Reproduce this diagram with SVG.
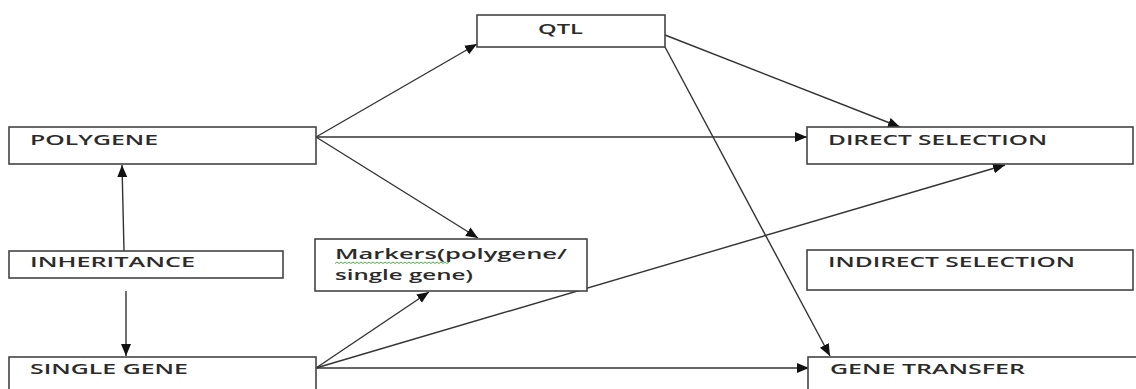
<svg xmlns="http://www.w3.org/2000/svg" width="1136" height="389" viewBox="0 0 1136 389">
  <style>
    .box { fill: #ffffff; stroke: #444444; stroke-width: 1.6; }
    .lbl { font-family: "Open Sans", "Liberation Sans", sans-serif; font-weight: 600; font-size: 14px; fill: #2b2b2b; }
    .mk { font-family: "Open Sans", "Liberation Sans", sans-serif; font-weight: 600; font-size: 15px; fill: #2b2b2b; }
    .edge { fill: none; stroke: #333333; stroke-width: 1.4; marker-end: url(#arrow); }
  </style>
  <defs>
    <marker id="arrow" markerUnits="userSpaceOnUse" markerWidth="14" markerHeight="12" refX="12" refY="5" orient="auto">
      <path d="M0,0 L12,5 L0,10 Z" fill="#111111"/>
    </marker>
  </defs>

  <rect width="1136" height="389" fill="#ffffff"/>

  <g id="connectors">
    <!-- inheritance branches -->
    <line class="edge" x1="124" y1="251" x2="122" y2="165"/>
    <line class="edge" x1="126" y1="291" x2="126" y2="356"/>
    <!-- from POLYGENE -->
    <line class="edge" x1="316" y1="137" x2="477" y2="44"/>
    <line class="edge" x1="316" y1="137" x2="807" y2="137"/>
    <line class="edge" x1="316" y1="137" x2="478" y2="238"/>
    <!-- from QTL -->
    <line class="edge" x1="665" y1="35" x2="900" y2="127"/>
    <line class="edge" x1="665" y1="47" x2="830" y2="356"/>
    <!-- from SINGLE GENE -->
    <line class="edge" x1="316" y1="368" x2="429" y2="292"/>
    <line class="edge" x1="316" y1="368" x2="1005" y2="165"/>
    <line class="edge" x1="316" y1="368" x2="809" y2="368"/>
  </g>

  <g id="qtl">
    <rect class="box" x="477" y="15" width="188" height="32"/>
    <text class="lbl" x="538" y="34" textLength="45" lengthAdjust="spacingAndGlyphs">QTL</text>
  </g>

  <g id="polygene">
    <rect class="box" x="9" y="127" width="307" height="37"/>
    <text class="lbl" x="30" y="145" textLength="128" lengthAdjust="spacingAndGlyphs">POLYGENE</text>
  </g>

  <g id="direct-selection">
    <rect class="box" x="807" y="127" width="326" height="37"/>
    <text class="lbl" x="828" y="145" textLength="219" lengthAdjust="spacingAndGlyphs">DIRECT SELECTION</text>
  </g>

  <g id="inheritance">
    <rect class="box" x="9" y="251" width="274" height="27"/>
    <text class="lbl" x="30" y="267" textLength="165" lengthAdjust="spacingAndGlyphs">INHERITANCE</text>
  </g>

  <g id="markers">
    <rect class="box" x="315" y="239" width="272" height="52"/>
    <text class="mk" x="335" y="259" textLength="232" lengthAdjust="spacingAndGlyphs">Markers(polygene/</text>
    <text class="mk" x="335" y="280" textLength="138" lengthAdjust="spacingAndGlyphs">single gene)</text>
    <!-- spell-check squiggle under the first word -->
    <path d="M335,263.5 l2,-1.5 l2,1.5 l2,-1.5 l2,1.5 l2,-1.5 l2,1.5 l2,-1.5 l2,1.5 l2,-1.5 l2,1.5 l2,-1.5 l2,1.5 l2,-1.5 l2,1.5 l2,-1.5 l2,1.5 l2,-1.5 l2,1.5 l2,-1.5 l2,1.5 l2,-1.5 l2,1.5 l2,-1.5 l2,1.5 l2,-1.5 l2,1.5 l2,-1.5 l2,1.5 l2,-1.5 l2,1.5 l2,-1.5 l2,1.5 l2,-1.5 l2,1.5 l2,-1.5 l2,1.5 l2,-1.5 l2,1.5 l2,-1.5 l2,1.5 l2,-1.5 l2,1.5 l2,-1.5 l2,1.5 l2,-1.5 l2,1.5 l2,-1.5 l2,1.5 l2,-1.5 l2,1.5 l2,-1.5 l2,1.5 l2,-1.5 l2,1.5 l2,-1.5 l2,1.5 l2,-1.5" fill="none" stroke="#3aa832" stroke-width="0.9"/>
  </g>

  <g id="indirect-selection">
    <rect class="box" x="807" y="250" width="326" height="40"/>
    <text class="lbl" x="828" y="267" textLength="247" lengthAdjust="spacingAndGlyphs">INDIRECT SELECTION</text>
  </g>

  <g id="single-gene">
    <rect class="box" x="9" y="357" width="307" height="45"/>
    <text class="lbl" x="30" y="374" textLength="158" lengthAdjust="spacingAndGlyphs">SINGLE GENE</text>
  </g>

  <g id="gene-transfer">
    <rect class="box" x="808" y="357" width="340" height="45"/>
    <text class="lbl" x="830" y="374" textLength="195" lengthAdjust="spacingAndGlyphs">GENE TRANSFER</text>
  </g>
</svg>
